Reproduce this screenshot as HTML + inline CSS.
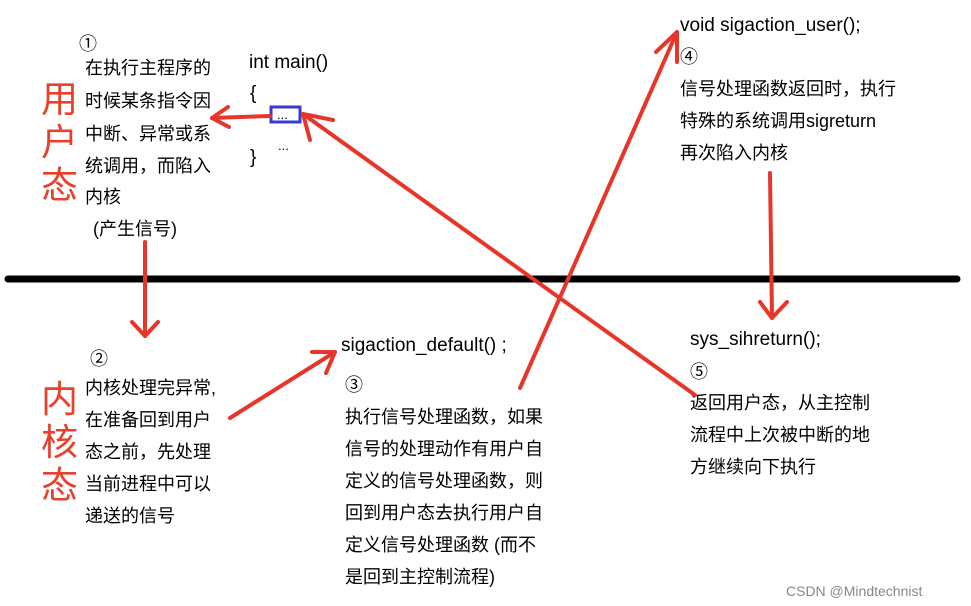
<!DOCTYPE html>
<html><head><meta charset="utf-8"><style>
html,body{margin:0;padding:0;background:#fff;}
svg{display:block;}
text{font-family:"Liberation Sans","Noto Sans CJK SC",sans-serif;fill:#000;}
.t{font-size:18px;}
.l{font-size:19px;}
.big{font-size:37px;fill:#e8402a;}
</style></head><body>
<svg width="971" height="606" viewBox="0 0 971 606" xmlns="http://www.w3.org/2000/svg">
<rect width="971" height="606" fill="#fff"/>
<line x1="8" y1="279" x2="957" y2="279" stroke="#000" stroke-width="7" stroke-linecap="round"/>

<text class="big" x="41" y="112">用</text>
<text class="big" x="41" y="155">户</text>
<text class="big" x="41" y="198">态</text>
<text class="big" x="41" y="412">内</text>
<text class="big" x="41" y="455">核</text>
<text class="big" x="41" y="498">态</text>

<text class="t" x="79" y="50">①</text>
<text class="t" x="85" y="74">在执行主程序的</text>
<text class="t" x="85" y="107">时候某条指令因</text>
<text class="t" x="85" y="140">中断、异常或系</text>
<text class="t" x="85" y="172">统调用，而陷入</text>
<text class="t" x="85" y="203">内核</text>
<text class="t" x="93" y="235">(产生信号)</text>

<text class="l" x="249" y="68">int main()</text>
<text class="l" x="250" y="99">{</text>
<rect x="271" y="107" width="29" height="15" fill="none" stroke="#3a3acf" stroke-width="3"/>
<text x="277" y="119" style="font-size:13px">...</text>
<text class="l" x="250" y="163">}</text>
<text x="278" y="150" style="font-size:13px">...</text>

<text class="t" x="90" y="365">②</text>
<text class="t" x="85" y="394">内核处理完异常,</text>
<text class="t" x="85" y="426">在准备回到用户</text>
<text class="t" x="85" y="458">态之前，先处理</text>
<text class="t" x="85" y="490">当前进程中可以</text>
<text class="t" x="85" y="522">递送的信号</text>

<text class="l" x="341" y="351">sigaction_default() ;</text>
<text class="t" x="345" y="391">③</text>
<text class="t" x="345" y="423">执行信号处理函数，如果</text>
<text class="t" x="345" y="455">信号的处理动作有用户自</text>
<text class="t" x="345" y="487">定义的信号处理函数，则</text>
<text class="t" x="345" y="519">回到用户态去执行用户自</text>
<text class="t" x="345" y="551">定义信号处理函数 (而不</text>
<text class="t" x="345" y="583">是回到主控制流程)</text>

<text class="l" x="680" y="31">void sigaction_user();</text>
<text class="t" x="680" y="63">④</text>
<text class="t" x="680" y="95">信号处理函数返回时，执行</text>
<text class="t" x="680" y="127">特殊的系统调用sigreturn</text>
<text class="t" x="680" y="159">再次陷入内核</text>

<text class="l" x="690" y="345">sys_sihreturn();</text>
<text class="t" x="690" y="378">⑤</text>
<text class="t" x="690" y="409">返回用户态，从主控制</text>
<text class="t" x="690" y="441">流程中上次被中断的地</text>
<text class="t" x="690" y="473">方继续向下执行</text>

<text x="786" y="596" style="font-size:14px;fill:#888">CSDN @Mindtechnist</text>

<g stroke="#e8352a" stroke-width="4" fill="none" stroke-linecap="round" stroke-linejoin="round">
<line x1="270" y1="116" x2="212" y2="118"/>
<polyline points="228,107 212,118 229,127"/>
<line x1="145" y1="242" x2="145" y2="336"/>
<polyline points="132,322 145,336 158,322"/>
<line x1="230" y1="418" x2="335" y2="352"/>
<polyline points="312,352 335,352 326,373"/>
<line x1="520" y1="388" x2="677" y2="32"/>
<polyline points="656,52 677,32 677,62"/>
<line x1="770" y1="173" x2="772" y2="318"/>
<polyline points="760,302 772,318 787,302"/>
<line x1="695" y1="395" x2="303" y2="114"/>
<polyline points="310,140 303,114 333,120"/>
</g>
</svg>
</body></html>
